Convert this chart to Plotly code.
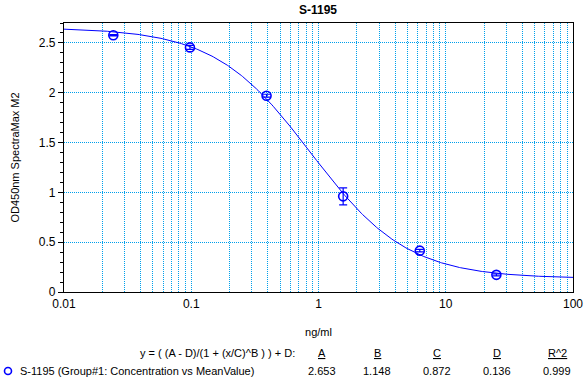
import numpy as np
import plotly.graph_objects as go

# ---- data ----
conc = [0.0244, 0.0977, 0.3906, 1.5625, 6.25, 25.0]
mean_od = [2.577, 2.455, 1.970, 0.960, 0.415, 0.172]
err_od = [0.006, 0.020, 0.015, 0.085, 0.012, 0.010]

param_names = ["A", "B", "C", "D", "R^2"]
param_values = ["2.653", "1.148", "0.872", "0.136", "0.999"]
A_, B_, C_, D_ = 2.653, 1.148, 0.872, 0.136

x_ticks = [0.01, 0.1, 1, 10, 100]
x_ticktext = ["0.01", "0.1", "1", "10", "100"]

title = "S-1195"
series_name = "S-1195 (Group#1: Concentration vs MeanValue)"
equation = "y = ( (A - D)/(1 + (x/C)^B ) ) + D:"

# fitted 4PL curve from the reported parameters
xs = np.logspace(-2, 2, 400)
ys = (A_ - D_) / (1 + (xs / C_) ** B_) + D_

BLUE = "#0000FF"
GRID = "#00A0EC"
FONT = "Liberation Sans, Arial, sans-serif"

fig = go.Figure()
fig.add_trace(go.Scatter(x=xs, y=ys, mode="lines",
                         line=dict(color=BLUE, width=1), showlegend=False,
                         hoverinfo="skip"))
fig.add_trace(go.Scatter(x=conc, y=mean_od, mode="markers",
                         marker=dict(symbol="circle-open", size=9,
                                     color=BLUE, line=dict(width=1.6, color=BLUE)),
                         error_y=dict(type="data", array=err_od, visible=True,
                                      color=BLUE, thickness=1.2, width=4),
                         showlegend=False))

minor_x = [m * 10.0 ** e for e in range(-2, 2) for m in range(2, 10)]

L, R, T, B = 64, 14, 23, 88
W, H = 587, 380
pw, ph = W - L - R, H - T - B

def px(x):
    return (x - L) / pw

def py(y):
    return (H - B - y) / ph

fig.update_layout(
    template="none",
    width=W, height=H, autosize=False,
    margin=dict(l=L, r=R, t=T, b=B, pad=0),
    paper_bgcolor="white", plot_bgcolor="white",
    font=dict(family=FONT, size=11, color="black"),
    showlegend=False,
)
fig.update_xaxes(
    type="log", range=[-2, 2], automargin=False,
    tickvals=x_ticks, ticktext=x_ticktext,
    ticks="", showline=True, linecolor="black", linewidth=1.2, mirror=True,
    showgrid=True, gridcolor=GRID, gridwidth=1, griddash="1px,1px",
    minor=dict(tickvals=minor_x, showgrid=True, gridcolor=GRID,
               gridwidth=1, griddash="1px,1px", ticks=""),
    tickfont=dict(size=12), zeroline=False,
    title=dict(text="ng/ml", font=dict(size=11), standoff=18),
)
fig.update_yaxes(
    range=[0, 2.7], dtick=0.5, tick0=0, automargin=False,
    ticks="outside", ticklen=5, tickcolor="black", tickwidth=1,
    showline=True, linecolor="black", linewidth=1.2, mirror=True,
    showgrid=True, gridcolor=GRID, gridwidth=1, griddash="1px,1px",
    minor=dict(dtick=0.1, ticks="outside", ticklen=3, tickcolor="black",
               showgrid=False),
    tickfont=dict(size=12), zeroline=False,
    title=dict(text="OD450nm SpectraMax M2", font=dict(size=11), standoff=16),
)

ann = [dict(text="<b>%s</b>" % title, x=px(318), y=py(10), xref="paper",
            yref="paper", showarrow=False, font=dict(size=12),
            xanchor="center", yanchor="middle"),
       dict(text=equation, x=px(297), y=py(353), xref="paper", yref="paper",
            showarrow=False, xanchor="right", yanchor="middle",
            font=dict(size=11)),
       dict(text=series_name, x=px(18), y=py(371), xref="paper", yref="paper",
            showarrow=False, xanchor="left", yanchor="middle",
            font=dict(size=11))]
col_x = [322, 377, 437, 497, 557]
for name, val, cx in zip(param_names, param_values, col_x):
    ann.append(dict(text="<u>%s</u>" % name, x=px(cx), y=py(353), xref="paper",
                    yref="paper", showarrow=False, xanchor="center",
                    yanchor="middle", font=dict(size=11)))
    ann.append(dict(text=val, x=px(cx), y=py(371), xref="paper", yref="paper",
                    showarrow=False, xanchor="center", yanchor="middle",
                    font=dict(size=11)))
fig.update_layout(annotations=ann)

fig.add_shape(type="circle", xref="paper", yref="paper",
              xsizemode="pixel", ysizemode="pixel",
              xanchor=px(8), yanchor=py(371),
              x0=-3.5, x1=3.5, y0=-3.5, y1=3.5,
              line=dict(color=BLUE, width=1.6))

fig.write_html("out.html",
               config={"displayModeBar": False, "responsive": False},
               post_script="document.body.style.margin='0';"
                           "document.body.style.overflow='hidden';")
